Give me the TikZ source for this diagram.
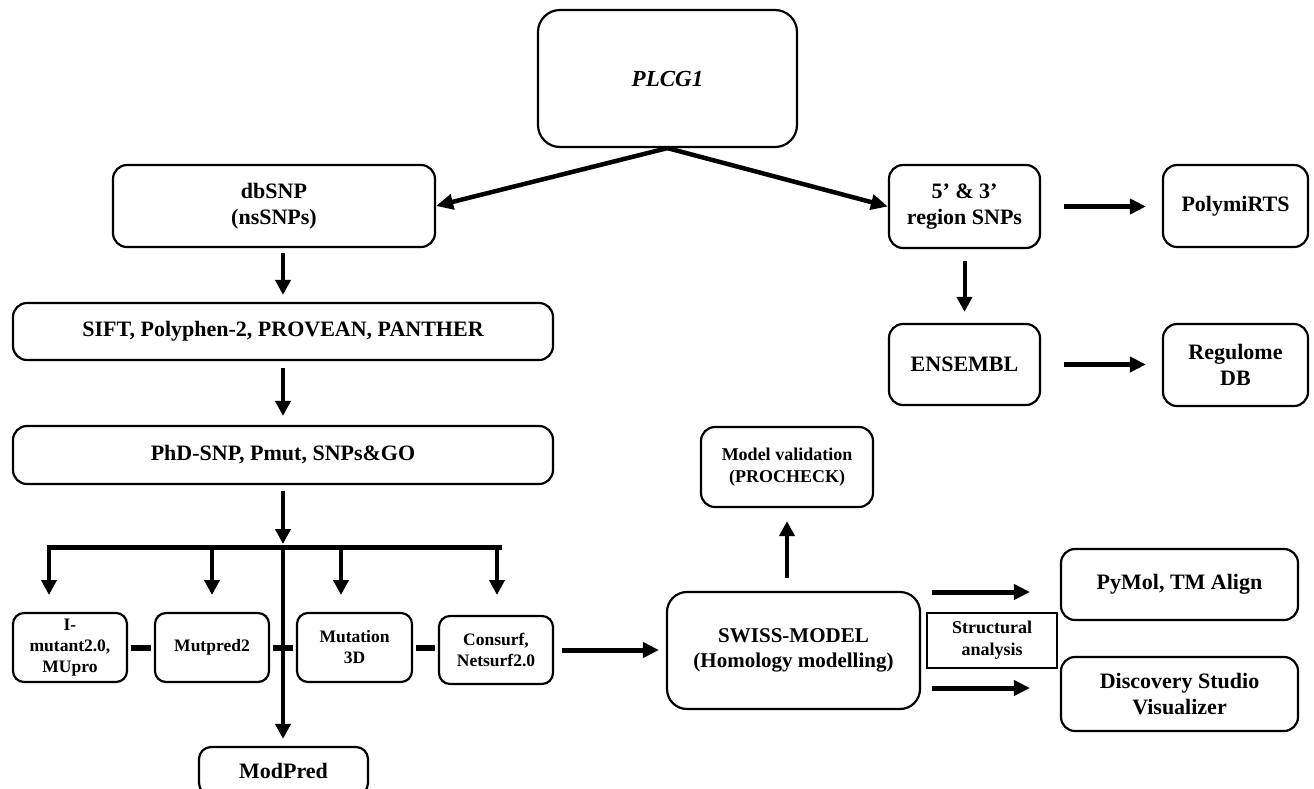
\documentclass[tikz,border=0pt]{standalone}
\usepackage{fontspec}
\setmainfont{Liberation Serif}
\usetikzlibrary{arrows.meta,calc}
\begin{document}
\begin{tikzpicture}[x=1pt,y=-1pt,
  box/.style={draw, line width=2.2pt, rounded corners=14pt, align=center, inner sep=0pt,
    font=\bfseries\fontsize{22}{26}\selectfont},
  sbox/.style={box, rounded corners=11pt, font=\bfseries\fontsize{17.5}{21}\selectfont},
  arr/.style={line width=4pt, -{Triangle[length=15pt,width=15pt]}},
  harr/.style={line width=5pt, -{Triangle[length=16pt,width=15pt]}},
  darr/.style={line width=4.5pt, -{Triangle[length=17pt,width=15pt]}},
  linker/.style={line width=6pt, shorten <=2.5pt, shorten >=2.5pt},
  barline/.style={line width=5pt, line cap=rect}
]
\path[use as bounding box, clip] (0,0) rectangle (1314,788);

% top
\node[box, rounded corners=22pt, minimum width=259pt, minimum height=137pt,
  font=\bfseries\itshape\fontsize{23}{26}\selectfont] (plcg) at (667.5,78.5) {PLCG1};
\node[box, minimum width=322pt, minimum height=82pt] (dbsnp) at (274,206) {dbSNP\\(nsSNPs)};
\node[box, minimum width=151pt, minimum height=83pt] (snp53) at (964.5,206.5) {5’ \& 3’\\region SNPs};
\node[box, minimum width=145pt, minimum height=82pt] (polymirts) at (1235.5,206) {PolymiRTS};
\node[box, minimum width=151pt, minimum height=81pt] (ensembl) at (964.5,364.5) {ENSEMBL};
\node[box, minimum width=145pt, minimum height=82pt] (regulome) at (1235.5,365) {Regulome\\DB};

% left column
\node[box, minimum width=540pt, minimum height=57pt] (sift) at (283,331.5) {SIFT, Polyphen-2, PROVEAN, PANTHER};
\node[box, minimum width=540pt, minimum height=58pt] (phd) at (283,455) {PhD-SNP, Pmut, SNPs\&GO};

% small boxes
\node[sbox, minimum width=114pt, minimum height=69pt] (imut) at (70,647.5) {I-\\mutant2.0,\\MUpro};
\node[sbox, minimum width=114pt, minimum height=69pt] (mutpred) at (212,647.5) {Mutpred2};
\node[sbox, minimum width=115pt, minimum height=69pt] (mut3d) at (354.5,647.5) {Mutation\\3D};
\node[sbox, minimum width=114pt, minimum height=68pt] (consurf) at (496,650) {Consurf,\\Netsurf2.0};
\node[box, rounded corners=12pt, minimum width=169pt, minimum height=48pt] (modpred) at (283.5,771) {ModPred};

% right bottom
\node[box, rounded corners=20pt, minimum width=253pt, minimum height=117pt,
  font=\bfseries\fontsize{21}{25}\selectfont] (swiss) at (793.5,650.5) {SWISS-MODEL\\(Homology modelling)};
\node[box, rounded corners=14pt, minimum width=172pt, minimum height=80pt,
  font=\bfseries\fontsize{18}{22}\selectfont] (modelval) at (787,467) {Model validation\\(PROCHECK)};
\node[draw, line width=2pt, align=center, inner sep=0pt, minimum width=130pt, minimum height=55pt,
  font=\bfseries\fontsize{18}{22}\selectfont] (struct) at (992,640.5) {Structural\\analysis};
\node[box, minimum width=237pt, minimum height=71pt] (pymol) at (1179.5,584.5) {PyMol, TM Align};
\node[box, minimum width=237pt, minimum height=74pt] (discovery) at (1179.5,694) {Discovery Studio\\Visualizer};

% connectors top
\draw[darr] (plcg.south) -- (dbsnp.east);
\draw[darr] (plcg.south) -- (snp53.west);
\draw[harr, shorten <=23pt, shorten >=16pt] (snp53.east) -- (snp53.east -| polymirts.west);
\draw[arr, shorten <=12pt, shorten >=11pt] (snp53.south) -- (ensembl.north);
\draw[harr, shorten <=23pt, shorten >=16pt] (ensembl.east) -- (ensembl.east -| regulome.west);

% left column connectors
\draw[arr, shorten <=5pt, shorten >=7pt] (dbsnp.south -| sift.north) -- (sift.north);
\draw[arr, shorten <=7pt, shorten >=9pt] (sift.south) -- (phd.north);

\coordinate (bar) at (283,547);
\coordinate (barL) at (49,547);
\coordinate (barR) at (499,547);
\coordinate (bA) at (49,547);  \coordinate (tA) at (49,595);
\coordinate (bB) at (212,547); \coordinate (tB) at (212,595);
\coordinate (bC) at (341,547); \coordinate (tC) at (341,595);
\coordinate (bD) at (497,547); \coordinate (tD) at (497,595);

\draw[arr, shorten <=6pt, shorten >=3pt] (phd.south) -- (bar);
\draw[barline] (barL) -- (barR);
\draw[arr] (bA) -- (tA);
\draw[arr] (bB) -- (tB);
\draw[arr] (bC) -- (tC);
\draw[arr] (bD) -- (tD);
\draw[arr, shorten >=7pt] (bar) -- (bar |- modpred.north);

\draw[linker] (imut.east) -- (mutpred.west);
\draw[linker] (mutpred.east) -- (mut3d.west);
\draw[linker] (mut3d.east) -- (mut3d.east -| consurf.west);

\draw[harr, shorten <=8pt, shorten >=7pt] (consurf.east) -- (consurf.east -| swiss.west);
\draw[arr, shorten <=13pt, shorten >=13pt] (swiss.north -| modelval.south) -- (modelval.south);

\coordinate (s1) at (0,592);
\coordinate (s2) at (0,688);
\draw[harr, shorten <=11pt, shorten >=30pt] (swiss.east |- s1) -- (pymol.west |- s1);
\draw[harr, shorten <=11pt, shorten >=30pt] (swiss.east |- s2) -- (discovery.west |- s2);
\end{tikzpicture}
\end{document}
